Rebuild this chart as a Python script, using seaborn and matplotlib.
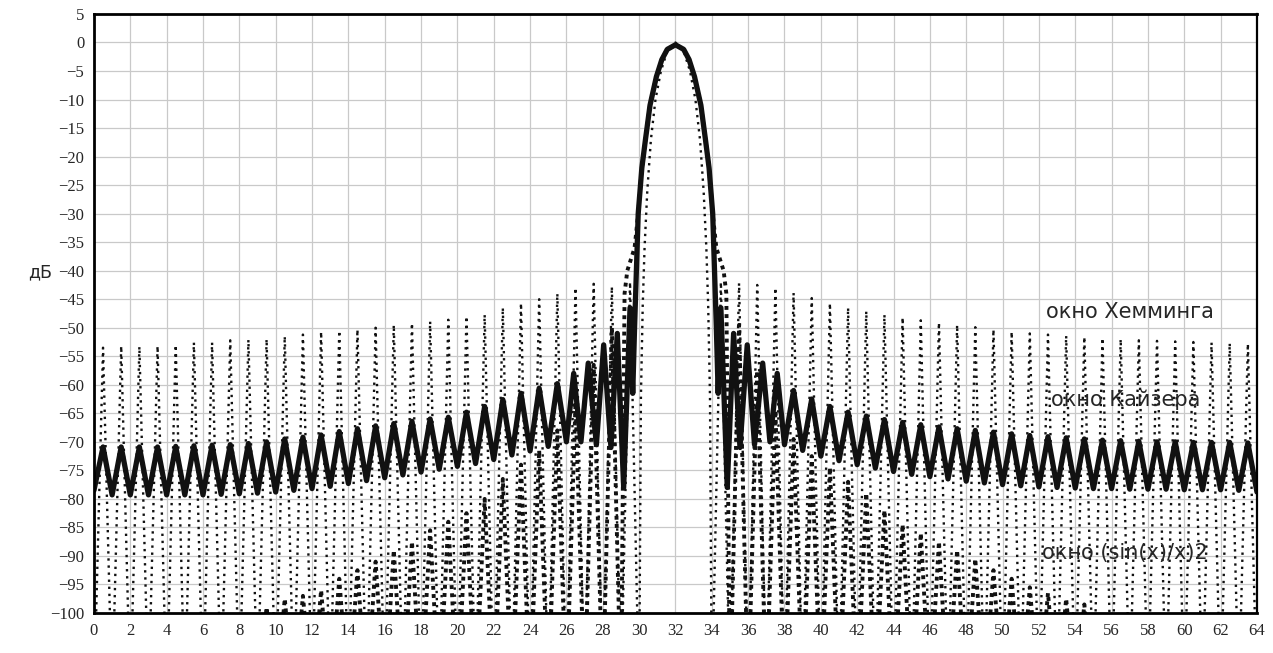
import numpy as np
import pandas as pd
import matplotlib
matplotlib.use("Agg")
import matplotlib.pyplot as plt
import seaborn as sns

# ---- values (dB); side lobes: nulls on whole bins, peaks on half bins ----

# Kaiser window
kaiser_left_nulls = [-78.5, -79.3, -79.3, -79.3, -79.3, -79.3, -79.3, -79.2, -79.1, -79.0,
                     -78.8, -78.5, -78.2, -77.8, -77.3, -76.8, -76.3, -75.8, -75.3, -74.8,
                     -74.3, -73.8, -73.1, -72.3, -71.6, -70.8, -70.0]          # bins 0..26
kaiser_left_peaks = [-70.9, -70.9, -70.9, -70.9, -70.8, -70.7, -70.6, -70.5, -70.3, -70.0,
                     -69.5, -69.2, -68.8, -68.2, -67.7, -67.2, -66.8, -66.4, -66.0, -65.7,
                     -64.8, -63.8, -62.6, -61.5, -60.6, -59.8]                 # bins 0.5..25.5
kaiser_mid_x = [26.4, 26.8, 27.2, 27.65, 28.05, 28.45, 28.8, 29.15, 29.5, 29.65,
                29.75, 29.85, 29.95, 30.15, 30.35, 30.6, 30.95, 31.25, 31.55, 32.0,
                32.45, 32.75, 33.05, 33.4, 33.65, 33.85, 34.05, 34.15, 34.25, 34.35,
                34.5, 34.85, 35.2, 35.55, 35.95, 36.35, 36.8, 37.2, 37.6]
kaiser_mid_db = [-58.0, -70.0, -56.2, -70.5, -53.0, -71.0, -51.0, -78.0, -46.5, -61.5,
                 -50.0, -40.0, -30.0, -22.0, -17.0, -11.0, -6.0, -3.0, -1.2, -0.4,
                 -1.2, -3.0, -6.0, -11.0, -17.0, -22.0, -30.0, -40.0, -50.0, -61.5,
                 -46.5, -78.0, -51.0, -71.0, -53.0, -70.5, -56.2, -70.0, -58.0]
kaiser_right_nulls = [-70.5, -71.5, -72.5, -73.3, -74.0, -74.6, -75.2, -75.7, -76.1, -76.5,
                      -76.9, -77.2, -77.5, -77.7, -77.9, -78.0, -78.1, -78.2, -78.2, -78.3,
                      -78.3, -78.3, -78.4, -78.4, -78.4, -78.5, -78.8]         # bins 38..64
kaiser_right_peaks = [-61.0, -62.5, -63.8, -64.8, -65.5, -66.1, -66.6, -67.0, -67.4, -67.7,
                      -68.0, -68.3, -68.6, -68.9, -69.1, -69.3, -69.5, -69.7, -69.8, -69.9,
                      -70.0, -70.0, -70.1, -70.1, -70.1, -70.2]                # bins 38.5..63.5

# Hamming window (nulls fall below the bottom of the scale)
hamming_null_db = -115.0
hamming_left_peaks = [-53.5, -53.2, -53.3, -53.2, -53.0, -52.6, -52.6, -52.2, -52.1, -52.0,
                      -51.5, -51.2, -50.7, -50.5, -50.3, -50.0, -49.5, -49.2, -48.9, -48.6,
                      -48.0, -47.7, -46.5, -45.7, -45.0, -44.0, -43.0, -42.3, -42.8, -42.0]  # 0.5..29.5
hamming_main_x = [30.1, 30.2, 30.3, 30.45, 30.65, 30.9, 31.2, 31.55, 32.0,
                  32.45, 32.8, 33.1, 33.35, 33.55, 33.7, 33.8, 33.9]
hamming_main_db = [-62.0, -46.0, -36.0, -26.0, -17.0, -10.0, -5.0, -1.5, 0.0,
                   -1.5, -5.0, -10.0, -17.0, -26.0, -36.0, -46.0, -62.0]
hamming_right_peaks = [-42.0, -42.2, -42.5, -43.0, -43.9, -44.8, -45.7, -46.5, -47.1, -47.7,
                       -48.2, -48.7, -49.1, -49.5, -49.9, -50.3, -50.7, -51.0, -51.2, -51.4,
                       -51.6, -51.8, -52.0, -52.2, -52.3, -52.4, -52.5, -52.6, -52.7, -52.8]  # 34.5..63.5

# (sin(x)/x)^2 window
sinc_null_db = -115.0
sinc_left_peaks = [-99.0, -97.5, -97.0, -96.0, -94.0, -92.5, -91.0, -89.0, -87.5, -85.5,
                   -84.0, -82.5, -80.0, -76.5, -74.0, -71.5, -68.0, -63.0, -56.5, -50.0]   # 9.5..28.5
sinc_main_x = [29.2, 29.35, 29.75, 29.95, 30.15, 30.35, 30.6, 30.95, 31.25, 31.55, 32.0,
               32.45, 32.75, 33.05, 33.4, 33.65, 33.85, 34.05, 34.25, 34.65, 34.8]
sinc_main_db = [-44.0, -40.0, -36.0, -30.0, -22.0, -17.0, -11.0, -6.0, -3.0, -1.2, -0.4,
                -1.2, -3.0, -6.0, -11.0, -17.0, -22.0, -30.0, -36.0, -40.0, -44.0]
sinc_right_peaks = [-49.5, -57.5, -64.5, -69.5, -72.5, -74.5, -77.0, -79.0, -82.0, -84.5,
                    -86.0, -87.5, -89.0, -90.5, -92.5, -94.0, -95.5, -96.5, -97.5, -98.5]  # 35.5..54.5

x_ticks = list(range(0, 65, 2))
y_ticks = list(range(5, -101, -5))


def lobe_run(first_bin, nulls, peaks):
    # nulls and peaks alternate, half a bin apart
    y = np.empty(len(nulls) + len(peaks))
    y[0::2] = nulls
    y[1::2] = peaks
    x = first_bin + 0.5 * np.arange(len(y))
    return x, y


def curve(parts):
    xs = np.concatenate([p[0] for p in parts])
    ys = np.concatenate([p[1] for p in parts])
    return pd.DataFrame({"bin": xs, "dB": ys})


kaiser = curve([
    lobe_run(0, kaiser_left_nulls, kaiser_left_peaks),
    (np.array(kaiser_mid_x), np.array(kaiser_mid_db)),
    lobe_run(38, kaiser_right_nulls, kaiser_right_peaks),
])
hamming = curve([
    lobe_run(0, [hamming_null_db] * (len(hamming_left_peaks) + 1), hamming_left_peaks),
    (np.array(hamming_main_x), np.array(hamming_main_db)),
    lobe_run(34, [hamming_null_db] * (len(hamming_right_peaks) + 1), hamming_right_peaks),
])
sinc2 = curve([
    lobe_run(9, [sinc_null_db] * (len(sinc_left_peaks) + 1), sinc_left_peaks),
    (np.array(sinc_main_x), np.array(sinc_main_db)),
    lobe_run(35, [sinc_null_db] * (len(sinc_right_peaks) + 1), sinc_right_peaks),
])

sns.set_theme(style="whitegrid")
plt.rcParams["font.family"] = ["DejaVu Sans"]

fig = plt.figure(figsize=(12.73, 6.53), dpi=100)
ax = fig.add_axes([0.0738, 0.0613, 0.9136, 0.9173])

sns.lineplot(data=hamming, x="bin", y="dB", ax=ax, estimator=None, sort=False,
             color="#111111", linewidth=1.7, linestyle=(0, (1.0, 2.0)))
sns.lineplot(data=sinc2, x="bin", y="dB", ax=ax, estimator=None, sort=False,
             color="#111111", linewidth=2.8, linestyle=(0, (1.0, 1.1)))
sns.lineplot(data=kaiser, x="bin", y="dB", ax=ax, estimator=None, sort=False,
             color="#111111", linewidth=3.8)

ax.set_xlim(0, 64)
ax.set_ylim(-100, 5)
ax.set_xticks(x_ticks)
ax.set_yticks(y_ticks)
ax.set_xticklabels([str(v) for v in x_ticks], family="Liberation Serif", fontsize=12)
ax.set_yticklabels([str(v).replace("-", "\u2212") for v in y_ticks],
                   family="Liberation Serif", fontsize=12)
ax.tick_params(length=0)
ax.tick_params(axis="y", pad=7)
ax.tick_params(axis="x", pad=7)

ax.grid(True, color="#c9c9c9", linewidth=0.9)
ax.set_facecolor("white")
for side in ["left", "bottom", "top"]:
    ax.spines[side].set_color("black")
    ax.spines[side].set_linewidth(2.0)
ax.spines["right"].set_color("black")
ax.spines["right"].set_linewidth(1.6)

ax.set_xlabel("")
ax.set_ylabel("дБ", rotation=0, fontsize=12.5, family="DejaVu Sans", va="center")
ax.yaxis.set_label_coords(-0.046, 0.569)

ax.text(57.0, -47.3, "окно Хемминга", ha="center", va="center", fontsize=15)
ax.text(56.75, -62.6, "окно Кайзера", ha="center", va="center", fontsize=15)
ax.text(56.75, -89.5, "окно (sin(x)/x)2", ha="center", va="center", fontsize=15)

fig.savefig("out.png", dpi=100, facecolor="white")
